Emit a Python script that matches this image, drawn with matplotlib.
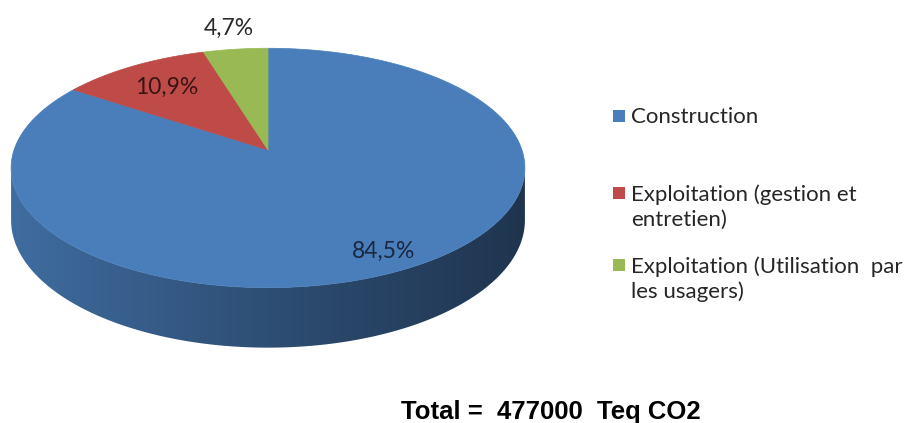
import numpy as np
import matplotlib.pyplot as plt
from matplotlib.patches import Polygon, Rectangle
from matplotlib.colors import to_rgb

labels = ['Construction', 'Exploitation (gestion et\nentretien)',
          'Exploitation (Utilisation  par\nles usagers)']
values = [84.5, 10.9, 4.7]
pct_labels = ['84,5%', '10,9%', '4,7%']
colors = ['#4A7EBB', '#BE4B48', '#98B954']
total_text = 'Total =  477000  Teq CO2'

# camembert 3D "à la Excel", tout en pixels
cx, cy = 268, 150      # centre projeté
R, Ry = 254, 117       # rayons
k = 0.15               # perspective
H = 51                 # épaisseur


def proj(t, depth=0.0):
    u, v = np.cos(t), np.sin(t)
    w = 1 + k * v
    return cx + R * u / w, cy - Ry * v / w + depth / w


fig = plt.figure(figsize=(9.09, 4.23), dpi=100)
ax = fig.add_axes([0, 0, 1, 1])
ax.set_xlim(0, 909)
ax.set_ylim(423, 0)
ax.axis('off')

fr = np.array(values) / sum(values)
cum = np.concatenate([[0], np.cumsum(fr)])
starts = np.pi / 2 - 2 * np.pi * cum[:-1]
ends = np.pi / 2 - 2 * np.pi * cum[1:]

# flanc avant (seule la part Construction y est visible)
tl = np.pi + np.arcsin(k)
tr = 2 * np.pi - np.arcsin(k)
tt = np.linspace(tl, tr, 300)
xt, yt = proj(tt)
xb, yb = proj(tt[::-1], H)
side = Polygon(list(zip(xt, yt)) + list(zip(xb, yb)), closed=True,
               facecolor='none', edgecolor='none')
ax.add_patch(side)
x_left, x_right = xt.min(), xt.max()
gx = np.linspace(0, 1, 400)
shade = np.interp(gx, [0, 0.12, 0.5, 0.85, 1], [0.86, 0.80, 0.62, 0.48, 0.42])
grad = np.array(to_rgb(colors[0]))[None, None, :] * shade[None, :, None]
im = ax.imshow(grad, extent=(x_left, x_right, yb.max() + 2, yt.min() - 2),
               aspect='auto', interpolation='bilinear', zorder=1)
im.set_clip_path(side)
ax.set_xlim(0, 909)
ax.set_ylim(423, 0)

# dessus
for a0, a1, col in zip(starts, ends, colors):
    ta = np.linspace(a0, a1, 200)
    xs, ys = proj(ta)
    pts = [(cx, cy)] + list(zip(xs, ys))
    ax.add_patch(Polygon(pts, closed=True, facecolor=col, edgecolor=col,
                         lw=0.5, zorder=2))

# étiquettes
lab_pos = [(384, 251), (167, 87), (229, 28)]
lab_cols = ['#1A2740', '#3A1414', '#2A2A2A']
for txt, (x, y), c in zip(pct_labels, lab_pos, lab_cols):
    ax.text(x, y, txt, ha='center', va='center', fontsize=16.5, color=c,
            family='Lato', zorder=3)

# légende
leg_y = [116, 193, 265]
for lab, y, col in zip(labels, leg_y, colors):
    ax.add_patch(Rectangle((613, y - 6), 12, 12, facecolor=col, edgecolor='none'))
    ax.text(631, y - 9, lab, ha='left', va='top', fontsize=16, color='#262626',
            family='Lato', linespacing=1.32)

ax.text(551, 412, total_text, ha='center', va='center', fontsize=18.5,
        fontweight='bold', family='Liberation Sans', color='black')

fig.savefig('out.png', dpi=100)
